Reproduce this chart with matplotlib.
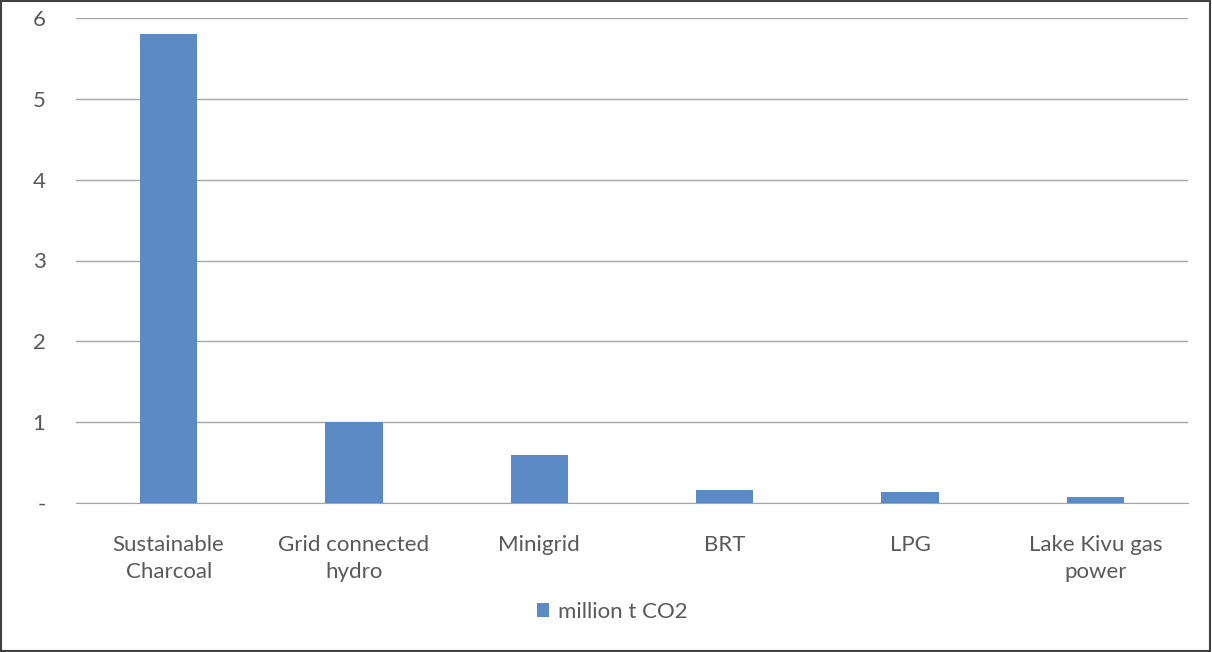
import matplotlib.pyplot as plt
from matplotlib.patches import Rectangle

# data
categories = ['Sustainable\nCharcoal', 'Grid connected\nhydro', 'Minigrid', 'BRT', 'LPG', 'Lake Kivu gas\npower']
values = [5.8, 1.0, 0.6, 0.16, 0.14, 0.07]
yticks = [0, 1, 2, 3, 4, 5, 6]
ytick_labels = ['-', '1', '2', '3', '4', '5', '6']
series_name = 'million t CO2'

bar_color = '#5b8ac4'
text_color = '#595959'
grid_color = '#a6a6a6'

plt.rcParams['font.family'] = ['Lato', 'DejaVu Sans']

fig = plt.figure(figsize=(12.12, 6.52), dpi=100)
ax = fig.add_axes([76 / 1212, 1 - 503 / 652, 1112 / 1212, 485 / 652])

x = range(len(categories))
ax.bar(x, values, width=0.31, color=bar_color, zorder=3, label=series_name)

ax.set_xlim(-0.5, len(categories) - 0.5)
ax.set_ylim(0, 6)
ax.set_yticks(yticks)
ax.set_yticklabels(ytick_labels, fontsize=16, color=text_color)
ax.set_xticks(list(x))
ax.set_xticklabels(categories, fontsize=16, color=text_color, linespacing=1.45)
ax.tick_params(axis='y', length=0, pad=22)
ax.tick_params(axis='x', length=0, pad=23)

ax.grid(axis='y', color=grid_color, linewidth=1, zorder=0)
for s in ['top', 'right', 'left']:
    ax.spines[s].set_visible(False)
ax.spines['bottom'].set_color(grid_color)

leg = fig.legend(loc='center', bbox_to_anchor=(612 / 1212, 1 - 612 / 652), frameon=False,
                 fontsize=16, handlelength=0.55, handleheight=0.55, handletextpad=0.4)
for t in leg.get_texts():
    t.set_color(text_color)

# outer chart border
fig.patches.append(Rectangle((0.001, 0.002), 0.997, 0.996, transform=fig.transFigure,
                             fill=False, edgecolor='#404040', linewidth=1.5))

fig.savefig('out.png', dpi=100)
